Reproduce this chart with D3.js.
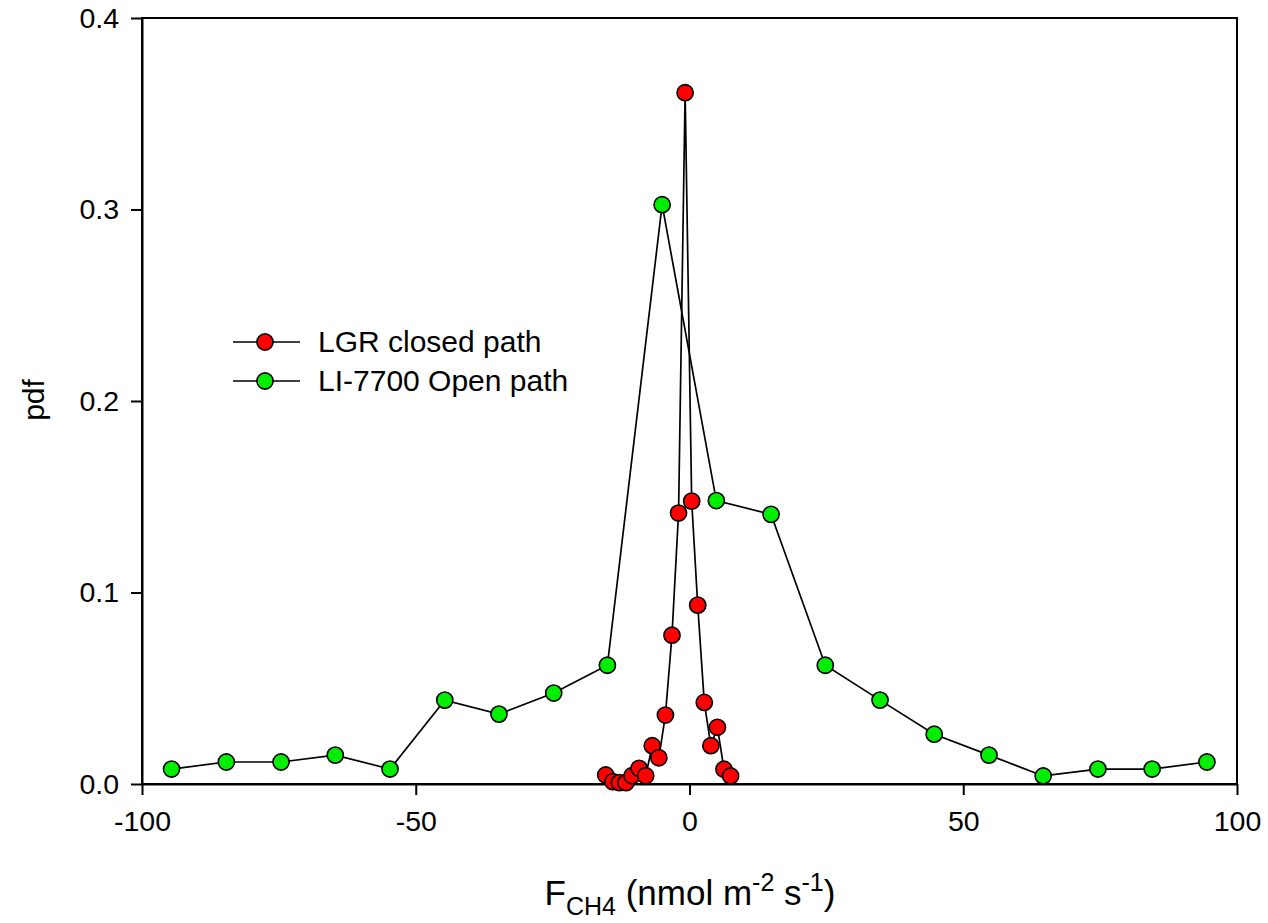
<!DOCTYPE html>
<html>
<head>
<meta charset="utf-8">
<script src="https://cdn.jsdelivr.net/npm/d3@7"></script>
<style>
  body { margin: 0; background: #fff; }
  svg text { font-family: "Liberation Sans", Arial, sans-serif; fill: #000; }
</style>
</head>
<body>
<svg id="chart" width="1268" height="923"></svg>
<script>
// LGR closed path (red)
var lgrX = [-15.3, -14.0, -12.8, -11.6, -10.5, -9.2, -8.0, -6.8, -5.6, -4.4, -3.2, -2.0, -0.8, 0.4, 1.5, 2.7, 3.9, 5.1, 6.3, 7.5];
var lgrY = [0.0047, 0.0012, 0.0007, 0.0007, 0.0043, 0.0082, 0.0043, 0.020, 0.0137, 0.036, 0.0777, 0.1415, 0.361, 0.1477, 0.0934, 0.0426, 0.020, 0.0296, 0.0077, 0.0042];
// LI-7700 open path (green)
var liX = [-94.6, -84.6, -74.6, -64.7, -54.7, -44.7, -34.8, -24.8, -15.0, -5.0, 4.9, 14.9, 24.8, 34.8, 44.7, 54.7, 64.6, 74.6, 84.5, 94.5];
var liY = [0.0078, 0.0115, 0.0115, 0.0151, 0.0078, 0.0438, 0.0365, 0.0475, 0.062, 0.3025, 0.148, 0.1408, 0.062, 0.0438, 0.026, 0.0151, 0.0042, 0.0078, 0.0078, 0.0115];

var xTicks = [-100, -50, 0, 50, 100];
var yTicks = [0, 0.1, 0.2, 0.3, 0.4];

var seriesNames = ["LGR closed path", "LI-7700 Open path"];
var seriesColors = ["#ff0000", "#00ee00"];

var mLeft = 142, mRight = 1237, mTop = 18, mBottom = 784;

var svg = d3.select("#chart");

var x = d3.scaleLinear().domain([-100, 100]).range([mLeft, mRight]);
var y = d3.scaleLinear().domain([0, 0.4]).range([mBottom, mTop]);

// frame
svg.append("rect")
  .attr("x", mLeft).attr("y", mTop)
  .attr("width", mRight - mLeft).attr("height", mBottom - mTop)
  .attr("fill", "none").attr("stroke", "#000").attr("stroke-width", 2);

// axes
var xAxis = svg.append("g")
  .attr("transform", "translate(0," + mBottom + ")")
  .call(d3.axisBottom(x).tickValues(xTicks).tickSize(11).tickSizeOuter(0).tickPadding(10)
    .tickFormat(function (d) { return String(d); }));
var yAxis = svg.append("g")
  .attr("transform", "translate(" + mLeft + ",0)")
  .call(d3.axisLeft(y).tickValues(yTicks).tickSize(11).tickSizeOuter(0).tickPadding(12)
    .tickFormat(function (d) { return d.toFixed(1); }));

[xAxis, yAxis].forEach(function (a) {
  a.select(".domain").attr("stroke-width", 2);
  a.selectAll(".tick line").attr("stroke-width", 2);
  a.selectAll(".tick text")
    .style("font-size", "28.5px")
    .style("font-family", "'Liberation Sans', Arial, sans-serif");
});
xAxis.selectAll(".tick text").attr("dy", "0.9em");

// series
var line = d3.line()
  .x(function (d) { return x(d[0]); })
  .y(function (d) { return y(d[1]); });

function series(xs, ys, color) {
  var data = xs.map(function (v, i) { return [v, ys[i]]; });
  var g = svg.append("g");
  g.append("path")
    .datum(data)
    .attr("d", line)
    .attr("fill", "none")
    .attr("stroke", "#000")
    .attr("stroke-width", 1.7);
  g.selectAll("circle")
    .data(data).enter().append("circle")
    .attr("cx", function (d) { return x(d[0]); })
    .attr("cy", function (d) { return y(d[1]); })
    .attr("r", 8.1)
    .attr("fill", color)
    .attr("stroke", "#000")
    .attr("stroke-width", 1.6);
}

series(liX, liY, seriesColors[1]);
series(lgrX, lgrY, seriesColors[0]);

// legend
var legend = svg.append("g").attr("transform", "translate(233,342)");
seriesNames.forEach(function (name, i) {
  var row = legend.append("g").attr("transform", "translate(0," + (i * 39) + ")");
  row.append("line")
    .attr("x1", 0).attr("x2", 67).attr("y1", 0).attr("y2", 0)
    .attr("stroke", "#000").attr("stroke-width", 1.7);
  row.append("circle")
    .attr("cx", 32).attr("cy", 0).attr("r", 8.1)
    .attr("fill", seriesColors[i]).attr("stroke", "#000").attr("stroke-width", 1.6);
  row.append("text")
    .attr("x", 85).attr("y", 10)
    .style("font-size", "30px")
    .text(name);
});

// axis titles
svg.append("text")
  .attr("transform", "translate(44,400) rotate(-90)")
  .attr("text-anchor", "middle")
  .style("font-size", "30px")
  .text("pdf");

var xt = svg.append("text")
  .attr("x", 690).attr("y", 905)
  .attr("text-anchor", "middle")
  .style("font-size", "35px");
xt.append("tspan").text("F");
xt.append("tspan").attr("dy", 10).style("font-size", "25px").text("CH4");
xt.append("tspan").attr("dy", -10).text(" (nmol m");
xt.append("tspan").attr("dy", -14).style("font-size", "25px").text("-2");
xt.append("tspan").attr("dy", 14).text(" s");
xt.append("tspan").attr("dy", -14).style("font-size", "25px").text("-1");
xt.append("tspan").attr("dy", 14).text(")");
</script>
</body>
</html>
